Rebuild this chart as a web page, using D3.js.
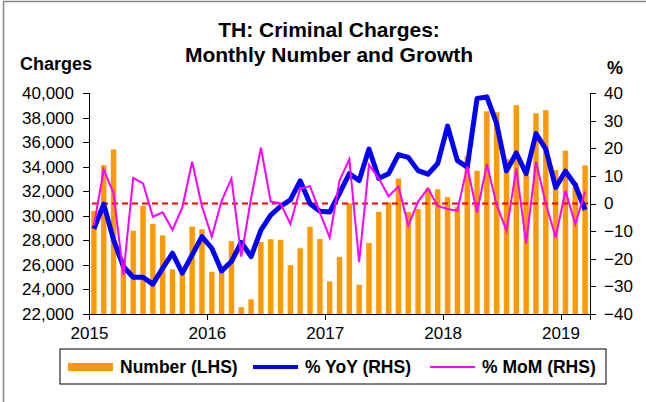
<!DOCTYPE html>
<html>
<head>
<meta charset="utf-8">
<script src="https://cdn.jsdelivr.net/npm/d3@7"></script>
<style>
    body { margin: 0; background: #fff; }
    svg text { font-family: "Liberation Sans", Arial, sans-serif; fill: #000; }
    .axis path, .axis line { stroke: #000; shape-rendering: crispEdges; }
    .axis text { font-size: 17px; }
    .bold { font-weight: bold; }
</style>
</head>
<body>
<script>
// months Jan 2015 .. Mar 2019
var months = ["Jan15", "Feb15", "Mar15", "Apr15", "May15", "Jun15", "Jul15", "Aug15", "Sep15", "Oct15", "Nov15", "Dec15",
    "Jan16", "Feb16", "Mar16", "Apr16", "May16", "Jun16", "Jul16", "Aug16", "Sep16", "Oct16", "Nov16", "Dec16",
    "Jan17", "Feb17", "Mar17", "Apr17", "May17", "Jun17", "Jul17", "Aug17", "Sep17", "Oct17", "Nov17", "Dec17",
    "Jan18", "Feb18", "Mar18", "Apr18", "May18", "Jun18", "Jul18", "Aug18", "Sep18", "Oct18", "Nov18", "Dec18",
    "Jan19", "Feb19", "Mar19"];

var number = [30390, 34120, 35400, 26300, 28770, 30820, 29320, 28400, 25640, 25280, 29120, 28900,
    25440, 25650, 27940, 22550, 23200, 27870, 28090, 28040, 25980, 27350, 29100, 28100,
    24650, 26650, 31010, 24380, 27790, 30320, 31100, 33030, 30310, 30550, 32230, 32150,
    31520, 30710, 34850, 33660, 38510, 38430, 34620, 39000, 33350, 38350, 38600, 33720,
    35300, 32700, 34100];

var yoy = [-9.2, -0.2, -13.2, -22.8, -26.7, -26.7, -29.2, -23.4, -18.0, -25.2, -18.6, -12.0,
    -16.2, -24.4, -21.0, -14.1, -19.2, -9.6, -4.2, -1.0, 1.3, 8.2, -0.1, -2.8,
    -3.1, 3.7, 10.8, 8.3, 19.7, 9.1, 10.8, 17.7, 16.7, 11.9, 10.6, 14.5,
    28.0, 15.5, 13.2, 38.0, 38.6, 28.9, 11.8, 18.3, 10.8, 25.3, 19.7, 5.8,
    11.7, 6.7, -2.3];

var mom = [-8.0, 12.3, 3.7, -25.8, 9.3, 7.3, -4.8, -3.2, -9.6, -1.4, 15.1, -1.1,
    -12.0, 1.0, 9.0, -19.2, 1.9, 20.2, 0.7, 0.0, -7.4, 5.4, 6.3, -3.3,
    -12.3, 8.3, 16.0, -21.2, 14.0, 9.0, 2.6, 6.2, -8.0, 0.7, 5.5, -0.9,
    -2.0, -2.6, 13.4, -3.3, 14.3, -0.5, -9.8, 12.7, -14.4, 15.1, 0.0, -12.3,
    4.6, -7.4, 4.3];

var leftTicks = d3.range(22000, 40001, 2000);
var rightTicks = d3.range(-40, 41, 10);
var yearTicks = [0, 12, 24, 36, 48];
var yearLabels = ["2015", "2016", "2017", "2018", "2019"];
var legendLabels = ["Number (LHS)", "% YoY (RHS)", "% MoM (RHS)"];

var _width = 646,
    _height = 402,
    _margins = {top: 93, left: 89, right: 56, bottom: 88};

var svg = d3.select("body").append("svg")
    .attr("width", _width)
    .attr("height", _height);

// frame (left and top edges only visible)
svg.append("path")
    .attr("d", "M3.5," + _height + "V1.5H" + _width)
    .attr("fill", "none")
    .attr("stroke", "#888")
    .attr("stroke-width", 1.5);

var x = d3.scaleBand()
    .domain(months)
    .range([_margins.left, _width - _margins.right])
    .paddingInner(0.45)
    .paddingOuter(0.225);

var xIdx = d3.scaleLinear()
    .domain([0, months.length])
    .range([_margins.left, _width - _margins.right]);

var yL = d3.scaleLinear()
    .domain([22000, 40000])
    .range([_height - _margins.bottom, _margins.top]);

var yR = d3.scaleLinear()
    .domain([-40, 40])
    .range([_height - _margins.bottom, _margins.top]);

function cx(d, i) {
    return x(months[i]) + x.bandwidth() / 2;
}

// bars
svg.append("g")
    .selectAll("rect")
    .data(number)
    .enter()
    .append("rect")
    .attr("x", function(d, i) { return x(months[i]); })
    .attr("y", function(d) { return yL(d); })
    .attr("width", x.bandwidth())
    .attr("height", function(d) { return yL(22000) - yL(d); })
    .attr("fill", "#ff9900");

// zero line
svg.append("line")
    .attr("x1", _margins.left + 3)
    .attr("x2", _width - _margins.right)
    .attr("y1", yR(0))
    .attr("y2", yR(0))
    .attr("stroke", "#ff0000")
    .attr("stroke-width", 2)
    .attr("stroke-dasharray", "6,4");

var line = d3.line()
    .x(cx)
    .y(function(d) { return yR(d); });

svg.append("path")
    .datum(yoy)
    .attr("d", line)
    .attr("fill", "none")
    .attr("stroke", "#0000ff")
    .attr("stroke-width", 5)
    .attr("stroke-linejoin", "round");

svg.append("path")
    .datum(mom)
    .attr("d", line)
    .attr("fill", "none")
    .attr("stroke", "#ff00ff")
    .attr("stroke-width", 2);

// axes
svg.append("g")
    .attr("class", "axis")
    .attr("transform", "translate(" + _margins.left + ",0)")
    .call(d3.axisLeft(yL).tickValues(leftTicks).tickFormat(d3.format(",")).tickSizeOuter(0).tickSize(6).tickPadding(9));

svg.append("g")
    .attr("class", "axis")
    .attr("transform", "translate(" + (_width - _margins.right) + ",0)")
    .call(d3.axisRight(yR).tickValues(rightTicks).tickSizeOuter(0).tickSize(6).tickPadding(8));

svg.append("g")
    .attr("class", "axis")
    .attr("transform", "translate(0," + (_height - _margins.bottom) + ")")
    .call(d3.axisBottom(xIdx).tickValues(yearTicks)
        .tickFormat(function(d, i) { return yearLabels[i]; })
        .tickSizeOuter(0).tickSize(6).tickPadding(7));

// titles
svg.append("text").attr("class", "bold")
    .attr("x", 329).attr("y", 37)
    .attr("text-anchor", "middle")
    .style("font-size", "21px")
    .text("TH: Criminal Charges:");
svg.append("text").attr("class", "bold")
    .attr("x", 329).attr("y", 62)
    .attr("text-anchor", "middle")
    .style("font-size", "21px")
    .text("Monthly Number and Growth");
svg.append("text").attr("class", "bold")
    .attr("x", 20).attr("y", 70)
    .style("font-size", "18px")
    .text("Charges");
svg.append("text").attr("class", "bold")
    .attr("x", 607).attr("y", 74)
    .style("font-size", "18px")
    .text("%");

// legend
var lg = svg.append("g").attr("transform", "translate(60,349)");
lg.append("rect")
    .attr("width", 546).attr("height", 35)
    .attr("fill", "#fff").attr("stroke", "#000").attr("stroke-width", 1);

var legendX = [8, 193, 370];
lg.append("rect")
    .attr("x", legendX[0]).attr("y", 14).attr("width", 45).attr("height", 8)
    .attr("fill", "#ff9900");
lg.append("line")
    .attr("x1", legendX[1]).attr("x2", legendX[1] + 45).attr("y1", 18).attr("y2", 18)
    .attr("stroke", "#0000ff").attr("stroke-width", 4);
lg.append("line")
    .attr("x1", legendX[2]).attr("x2", legendX[2] + 45).attr("y1", 18).attr("y2", 18)
    .attr("stroke", "#ff00ff").attr("stroke-width", 2);

lg.selectAll("text.leg")
    .data(legendLabels)
    .enter()
    .append("text")
    .attr("class", "leg bold")
    .attr("x", function(d, i) { return legendX[i] + 52; })
    .attr("y", 24)
    .style("font-size", "17.5px")
    .text(function(d) { return d; });
</script>
</body>
</html>
